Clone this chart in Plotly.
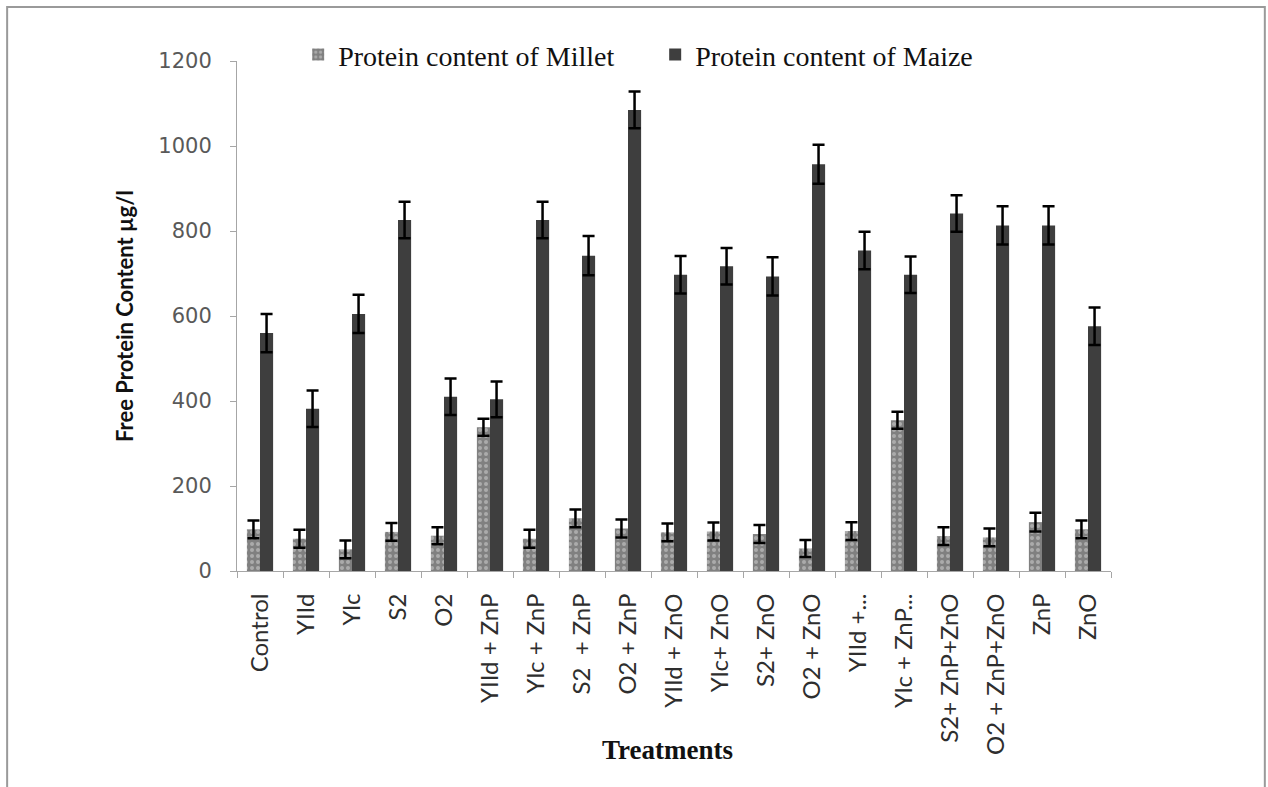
import plotly.graph_objects as go

# Treatments on the x axis
treatments = [
    "Control", "YIId", "Ylc", "S2", "O2",
    "YIId + ZnP", "Ylc + ZnP", "S2  + ZnP", "O2 + ZnP",
    "YIId + ZnO", "Ylc+ ZnO", "S2+ ZnO", "O2 + ZnO",
    "YIId +...", "Ylc + ZnP...", "S2+ ZnP+ZnO", "O2 + ZnP+ZnO",
    "ZnP", "ZnO",
]

# Free protein content (µg/l)
millet = [98, 76, 51, 92, 83, 338, 76, 124, 100, 91, 93, 87, 53, 94, 355, 82, 79, 115, 98]
millet_err = [21, 21, 21, 21, 20, 20, 21, 21, 21, 21, 21, 21, 20, 21, 20, 21, 21, 22, 21]

maize = [560, 382, 605, 826, 410, 404, 826, 742, 1085, 697, 717, 693, 957, 754, 697, 841, 813, 813, 576]
maize_err = [45, 43, 45, 43, 43, 42, 43, 46, 43, 44, 43, 45, 46, 44, 43, 43, 45, 45, 44]

y_ticks = [0, 200, 400, 600, 800, 1000, 1200]

fig = go.Figure()

fig.add_trace(go.Bar(
    name="Protein content of Millet",
    x=treatments,
    y=millet,
    marker=dict(
        color="#808080",
        line=dict(width=0),
        pattern=dict(shape=".", fgcolor="#d6d6d6", bgcolor="#808080",
                     size=6, solidity=0.35),
    ),
    error_y=dict(type="data", array=millet_err, visible=True,
                 color="black", thickness=2.5, width=6),
))

fig.add_trace(go.Bar(
    name="Protein content of Maize",
    x=treatments,
    y=maize,
    marker=dict(color="#3e3e3e", line=dict(width=0)),
    error_y=dict(type="data", array=maize_err, visible=True,
                 color="black", thickness=2.5, width=6),
))

fig.update_layout(
    width=1268,
    height=787,
    margin=dict(l=237, r=157, t=61, b=216),
    paper_bgcolor="white",
    plot_bgcolor="white",
    barmode="group",
    bargap=0.43,
    bargroupgap=0,
    showlegend=True,
    legend=dict(
        orientation="h",
        x=0.07, xanchor="left",
        y=1.012, yanchor="middle",
        font=dict(family="Liberation Serif", size=28, color="#111111"),
        itemwidth=30,
        entrywidth=312,
        bgcolor="rgba(0,0,0,0)",
        traceorder="normal",
    ),
    xaxis=dict(
        automargin=False,
        tickangle=-90,
        tickfont=dict(family="Lato", size=24, color="#2e2e2e"),
        showline=True, linecolor="#a6a6a6", linewidth=1,
        ticks="outside", ticklen=6, tickcolor="#a6a6a6",
        tickson="boundaries",
        ticklabelstandoff=12,
        showgrid=False,
    ),
    yaxis=dict(
        automargin=False,
        range=[0, 1200],
        tickvals=y_ticks,
        tickfont=dict(family="DejaVu Sans", size=21, color="#595959"),
        showline=True, linecolor="#a6a6a6", linewidth=1,
        ticks="outside", ticklen=6, tickcolor="#a6a6a6",
        ticklabelstandoff=14,
        showgrid=False,
        zeroline=False,
        title=dict(text="<b>Free Protein Content µg/l</b>",
                   font=dict(family="Lato", size=22, color="#111111"),
                   standoff=18),
    ),
    annotations=[dict(
        text="<b>Treatments</b>",
        xref="paper", yref="paper",
        x=0.493, y=-0.351,
        xanchor="center", yanchor="middle",
        showarrow=False,
        font=dict(family="Liberation Serif", size=27, color="#111111"),
    )],
    shapes=[dict(
        type="rect", xref="paper", yref="paper",
        x0=-0.263, x1=1.176, y0=-0.6, y1=1.106,
        line=dict(color="#9a9a9a", width=2),
        fillcolor="rgba(0,0,0,0)",
        layer="below",
    )],
)

fig.write_html("out.html")
